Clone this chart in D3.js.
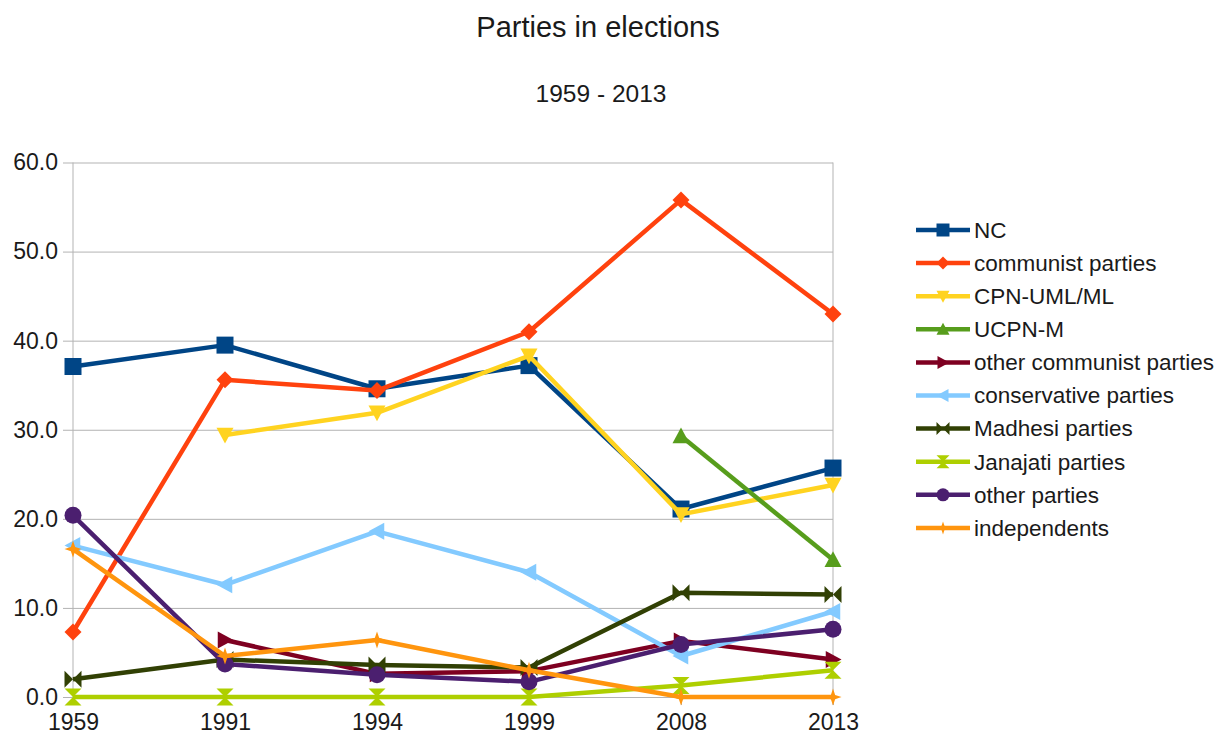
<!DOCTYPE html>
<html>
<head>
<meta charset="utf-8">
<script src="https://cdn.jsdelivr.net/npm/d3@7"></script>
<style>
  body { margin: 0; background: #fff; }
  text { font-family: "Liberation Sans", Arial, sans-serif; fill: #1a1a1a; }
</style>
</head>
<body>
<svg id="chart"></svg>
<script>
// election years (categories)
const years = ["1959", "1991", "1994", "1999", "2008", "2013"];
const yTicks = [0, 10, 20, 30, 40, 50, 60];

// vote share per party, null = not contested
const nc            = [37.1, 39.5, 34.6, 37.2, 21.1, 25.7];
const communist     = [7.3, 35.6, 34.4, 41.0, 55.8, 43.0];
const cpnUml        = [null, 29.4, 31.9, 38.3, 20.5, 23.8];
const ucpnM         = [null, null, null, null, 29.3, 15.4];
const otherComm     = [null, 6.4, 2.6, 2.9, 6.3, 4.2];
const conservative  = [17.0, 12.6, 18.6, 14.0, 4.6, 9.6];
const madhesi       = [2.0, 4.2, 3.6, 3.3, 11.7, 11.5];
const janajati      = [0, 0, 0, 0, 1.3, 3.0];
const otherParties  = [20.4, 3.7, 2.5, 1.7, 5.9, 7.6];
const independents  = [16.6, 4.6, 6.4, 3.0, 0, 0];

const seriesNames = ["NC", "communist parties", "CPN-UML/ML", "UCPN-M", "other communist parties",
  "conservative parties", "Madhesi parties", "Janajati parties", "other parties", "independents"];
const seriesValues = [nc, communist, cpnUml, ucpnM, otherComm, conservative, madhesi, janajati, otherParties, independents];
const colors = ["#004586", "#ff420e", "#ffd320", "#579d1c", "#7e0021",
  "#83caff", "#314004", "#aecf00", "#4b1f6f", "#ff950e"];

// marker shapes, drawn around 0,0 with half size s
const shapes = [
  s => `M${-s},${-s}H${s}V${s}H${-s}Z`,
  s => `M0,${-s}L${s},0L0,${s}L${-s},0Z`,
  s => `M${-s},${-s * 0.85}L${s},${-s * 0.85}L0,${s}Z`,
  s => `M${-s},${s * 0.85}L${s},${s * 0.85}L0,${-s}Z`,
  s => `M${-s * 0.85},${-s}L${-s * 0.85},${s}L${s},0Z`,
  s => `M${s * 0.85},${-s}L${s * 0.85},${s}L${-s},0Z`,
  s => `M${-s},${-s}L${s},${s}L${s},${-s}L${-s},${s}Z`,
  s => `M${-s},${-s}L${s},${-s}L${-s},${s}L${s},${s}Z`,
  s => d3.arc()({innerRadius: 0, outerRadius: s, startAngle: 0, endAngle: 2 * Math.PI}),
  s => `M0,${-s}L${s * 0.25},${-s * 0.25}L${s},0L${s * 0.25},${s * 0.25}L0,${s}L${-s * 0.25},${s * 0.25}L${-s},0L${-s * 0.25},${-s * 0.25}Z`
];

const width = 1230, height = 734;
const margin = {top: 162.5, right: 397, bottom: 37, left: 73};

const svg = d3.select("#chart")
  .attr("width", width)
  .attr("height", height);

const x = d3.scalePoint()
  .domain(years)
  .range([margin.left, width - margin.right]);

const y = d3.scaleLinear()
  .domain([0, 60])
  .range([height - margin.bottom, margin.top]);

// titles
svg.append("text")
  .attr("x", 598).attr("y", 37)
  .attr("text-anchor", "middle")
  .style("font-size", "29px")
  .text("Parties in elections");

svg.append("text")
  .attr("x", 601).attr("y", 102)
  .attr("text-anchor", "middle")
  .style("font-size", "24.5px")
  .text("1959 - 2013");

// horizontal gridlines + y axis
const yAxis = svg.append("g")
  .attr("transform", "translate(" + margin.left + ",0)")
  .call(d3.axisLeft(y).tickValues(yTicks).tickFormat(d3.format(".1f"))
    .tickSize(-(width - margin.right - margin.left)).tickPadding(15));
yAxis.select(".domain").remove();
yAxis.selectAll(".tick line").attr("stroke", "#b3b3b3").attr("x1", -10);
yAxis.selectAll(".tick text").style("font-size", "23px").attr("fill", "#1a1a1a");

// vertical frame lines
svg.append("line")
  .attr("x1", margin.left).attr("x2", margin.left)
  .attr("y1", y(60)).attr("y2", y(0) + 8)
  .attr("stroke", "#b3b3b3");
svg.append("line")
  .attr("x1", width - margin.right).attr("x2", width - margin.right)
  .attr("y1", y(60)).attr("y2", y(0) + 8)
  .attr("stroke", "#b3b3b3");

// x axis labels
const xAxis = svg.append("g")
  .attr("transform", "translate(0," + y(0) + ")")
  .call(d3.axisBottom(x).tickSize(8).tickPadding(9));
xAxis.select(".domain").remove();
xAxis.selectAll(".tick line").attr("stroke", "#b3b3b3");
xAxis.selectAll(".tick text").style("font-size", "23px").attr("fill", "#1a1a1a");

// series
const line = d3.line()
  .defined(d => d.v !== null)
  .x(d => x(d.year))
  .y(d => y(d.v));

seriesValues.forEach((vals, i) => {
  const pts = years.map((yr, j) => ({year: yr, v: vals[j]}));
  const g = svg.append("g");
  g.append("path")
    .datum(pts)
    .attr("d", line)
    .attr("fill", "none")
    .attr("stroke", colors[i])
    .attr("stroke-width", 4.5)
    .attr("stroke-linejoin", "round");
  g.selectAll("path.mark")
    .data(pts.filter(d => d.v !== null))
    .enter()
    .append("path")
    .attr("class", "mark")
    .attr("transform", d => "translate(" + x(d.year) + "," + y(d.v) + ")")
    .attr("d", shapes[i](8.5))
    .attr("fill", colors[i]);
});

// legend
const legend = svg.append("g")
  .attr("transform", "translate(916,230)");

seriesNames.forEach((name, i) => {
  const row = legend.append("g")
    .attr("transform", "translate(0," + (i * 33.1) + ")");
  row.append("line")
    .attr("x1", 0).attr("x2", 54)
    .attr("stroke", colors[i])
    .attr("stroke-width", 4.5);
  row.append("path")
    .attr("transform", "translate(27,0)")
    .attr("d", shapes[i](6.5))
    .attr("fill", colors[i]);
  row.append("text")
    .attr("x", 58).attr("dy", "0.35em")
    .style("font-size", "22.5px")
    .text(name);
});
</script>
</body>
</html>
